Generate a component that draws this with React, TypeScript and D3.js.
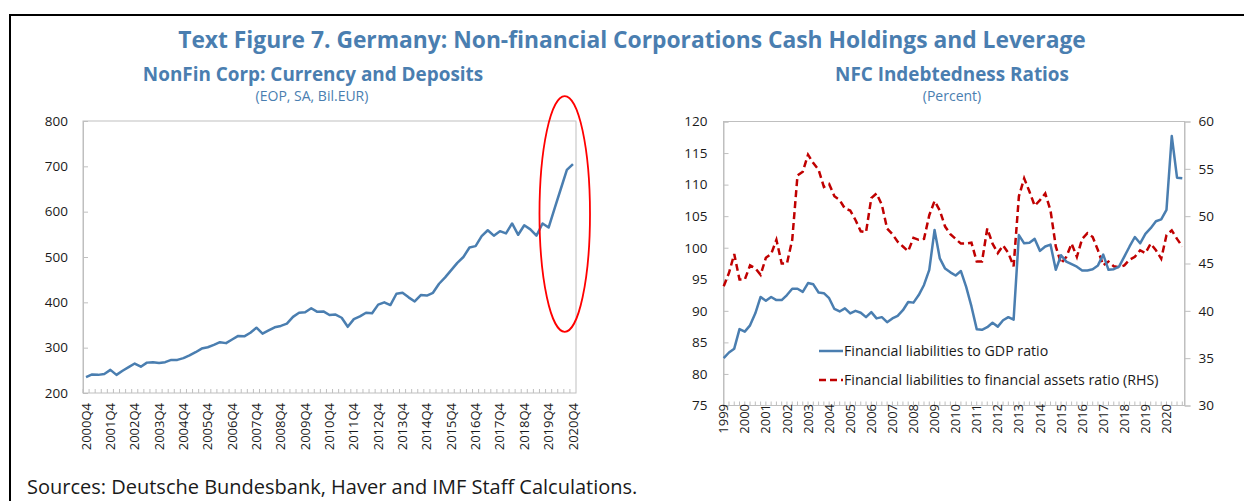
import { useEffect, useRef } from "react";
import * as d3 from "d3";

// Left panel: currency and deposits, 2000Q4 - 2020Q4 (bil. EUR)
const depositQuarters: string[] = [];
for (let y = 2000; y <= 2020; y++) {
  for (const q of y === 2000 ? [4] : [1, 2, 3, 4]) depositQuarters.push(`${y}Q${q}`);
}
const depositValues = [
  235, 241, 240, 242, 251, 240, 249, 257, 265, 258,
  267, 268, 266, 268, 273, 273, 277, 283, 290, 298,
  301, 306, 312, 310, 318, 326, 325, 333, 344, 331,
  338, 345, 348, 353, 368, 377, 378, 387, 379, 380,
  372, 373, 366, 346, 363, 369, 377, 376, 395, 400,
  394, 419, 421, 411, 402, 416, 415, 421, 441, 455,
  471, 487, 500, 521, 524, 546, 559, 547, 557, 552,
  574, 549, 570, 561, 547, 574, 565, 608, 650, 692,
  705,
];
const depositTickLabels = [
  "2000Q4", "2001Q4", "2002Q4", "2003Q4", "2004Q4", "2005Q4", "2006Q4",
  "2007Q4", "2008Q4", "2009Q4", "2010Q4", "2011Q4", "2012Q4", "2013Q4",
  "2014Q4", "2015Q4", "2016Q4", "2017Q4", "2018Q4", "2019Q4", "2020Q4",
];
const depositYTicks = [200, 300, 400, 500, 600, 700, 800];

// Right panel: indebtedness ratios, 1999Q1 - 2020Q4 (percent)
const ratioQuarters: string[] = [];
for (let y = 1999; y <= 2020; y++) {
  for (const q of [1, 2, 3, 4]) ratioQuarters.push(`${y}Q${q}`);
}
const liabToGdp = [
  82.5, 83.4, 84.0, 87.1, 86.7, 87.7, 89.6, 92.2, 91.6, 92.2,
  91.7, 91.7, 92.5, 93.5, 93.5, 93.0, 94.4, 94.2, 92.9, 92.8,
  92.0, 90.3, 89.9, 90.4, 89.6, 90.0, 89.7, 89.0, 89.8, 88.8,
  89.0, 88.2, 88.8, 89.2, 90.1, 91.4, 91.3, 92.5, 94.1, 96.5,
  102.8, 98.3, 96.7, 96.1, 95.6, 96.3, 93.8, 90.7, 87.1, 87.0,
  87.4, 88.1, 87.5, 88.5, 89.0, 88.6, 102.0, 100.7, 100.8, 101.4,
  99.5, 100.2, 100.5, 96.5, 98.8, 97.8, 97.4, 97.0, 96.4, 96.4,
  96.6, 97.2, 98.9, 96.5, 96.6, 97.0, 98.6, 100.2, 101.7, 100.7,
  102.2, 103.1, 104.2, 104.5, 106.0, 117.7, 111.1, 111.0,
];
const liabToAssets = [
  42.6, 44.0, 46.0, 43.3, 43.3, 44.8, 44.5, 43.8, 45.6, 46.0,
  47.5, 45.0, 45.0, 47.5, 54.3, 54.7, 56.5, 55.6, 54.9, 53.1,
  53.4, 52.1, 51.7, 50.8, 50.6, 49.6, 48.4, 48.3, 51.9, 52.4,
  51.2, 48.7, 48.1, 47.3, 46.8, 46.3, 47.7, 47.5, 47.6, 50.1,
  51.6, 50.6, 48.9, 48.1, 47.6, 47.1, 47.1, 47.2, 45.2, 45.2,
  48.7, 47.1, 46.1, 46.9, 46.1, 44.7, 52.1, 54.0, 52.6, 51.1,
  51.7, 52.4, 50.6, 46.8, 45.0, 45.7, 47.1, 45.7, 47.6, 48.2,
  47.8, 46.4, 44.8, 45.2, 44.7, 44.6, 44.8, 45.4, 45.7, 46.4,
  46.1, 47.1, 46.4, 45.5, 48.0, 48.5, 47.6, 46.8,
];
const ratioYearLabels = [
  "1999", "2000", "2001", "2002", "2003", "2004", "2005", "2006", "2007", "2008", "2009",
  "2010", "2011", "2012", "2013", "2014", "2015", "2016", "2017", "2018", "2019", "2020",
];
const lhsTicks = [75, 80, 85, 90, 95, 100, 105, 110, 115, 120];
const rhsTicks = [30, 35, 40, 45, 50, 55, 60];

const FONT = "'Segoe UI', 'Open Sans', sans-serif";
const BLUE = "#4A7EB0";
const RED = "#C00000";
const GRID = "#BFBFBF";

export default function App() {
  const svgRef = useRef<SVGSVGElement>(null);

  useEffect(() => {
    if (!svgRef.current) return;
    const svg = d3.select(svgRef.current);
    svg.selectAll("*").remove();
    svg.attr("font-family", FONT);

    // outer frame
    svg.append("rect")
      .attr("x", 10).attr("y", 15).attr("width", 1250).attr("height", 500)
      .attr("fill", "none").attr("stroke", "#000").attr("stroke-width", 2);

    svg.append("text")
      .attr("x", 632).attr("y", 48).attr("text-anchor", "middle")
      .attr("fill", BLUE).attr("font-size", 22.8).attr("font-weight", 700)
      .text("Text Figure 7. Germany: Non-financial Corporations Cash Holdings and Leverage");

    // ---------- left panel ----------
    const L = { left: 83, right: 576, top: 121, bottom: 393 };
    const xL = d3.scaleBand().domain(depositQuarters).range([L.left, L.right]);
    const yL = d3.scaleLinear().domain([200, 800]).range([L.bottom, L.top]);

    svg.append("text")
      .attr("x", 313).attr("y", 81).attr("text-anchor", "middle")
      .attr("fill", BLUE).attr("font-size", 18.9).attr("font-weight", 700)
      .text("NonFin Corp: Currency and Deposits");
    svg.append("text")
      .attr("x", 312).attr("y", 101).attr("text-anchor", "middle")
      .attr("fill", BLUE).attr("font-size", 14)
      .text("(EOP, SA, Bil.EUR)");

    svg.append("rect")
      .attr("x", L.left).attr("y", L.top).attr("width", L.right - L.left).attr("height", L.bottom - L.top)
      .attr("fill", "none").attr("stroke", GRID).attr("stroke-width", 1);

    svg.append("g")
      .attr("transform", `translate(${L.left},0)`)
      .call(d3.axisLeft(yL).tickValues(depositYTicks).tickSize(-5).tickPadding(15))
      .call((g) => g.select(".domain").attr("stroke", GRID))
      .call((g) => g.selectAll(".tick line").attr("stroke", GRID))
      .call((g) => g.selectAll(".tick text").attr("fill", "#1a1a1a").attr("font-size", 13.5).attr("font-family", FONT));

    // quarterly minor ticks on category boundaries
    svg.append("g").selectAll("line")
      .data(depositQuarters).enter().append("line")
      .attr("x1", (d) => xL(d)!).attr("x2", (d) => xL(d)!)
      .attr("y1", L.bottom).attr("y2", L.bottom - 4)
      .attr("stroke", GRID);

    svg.append("g").selectAll("text")
      .data(depositTickLabels).enter().append("text")
      .attr("transform", (d) => `translate(${xL(d)! + xL.bandwidth() / 2},403) rotate(-90)`)
      .attr("text-anchor", "end").attr("dy", "0.35em")
      .attr("fill", "#1a1a1a").attr("font-size", 13)
      .text((d) => d);

    const lineL = d3.line<number>()
      .x((_, i) => xL(depositQuarters[i])! + xL.bandwidth() / 2)
      .y((d) => yL(d));
    svg.append("path")
      .datum(depositValues)
      .attr("d", lineL)
      .attr("fill", "none").attr("stroke", BLUE).attr("stroke-width", 2.5)
      .attr("stroke-linejoin", "round");

    // highlight ellipse around the recent surge
    const ex0 = xL("2019Q3")!;
    const ex1 = L.right + 14;
    const ey0 = yL(855);
    const ey1 = yL(335);
    svg.append("ellipse")
      .attr("cx", (ex0 + ex1) / 2).attr("cy", (ey0 + ey1) / 2)
      .attr("rx", (ex1 - ex0) / 2).attr("ry", (ey1 - ey0) / 2)
      .attr("fill", "none").attr("stroke", "#FF0000").attr("stroke-width", 1.8);

    // ---------- right panel ----------
    const R = { left: 723.5, right: 1184.5, top: 121.5, bottom: 405.5 };
    const xR = d3.scalePoint().domain(ratioQuarters).range([R.left + 0.2, R.right - 2.2]);
    const yR1 = d3.scaleLinear().domain([75, 120]).range([R.bottom, R.top]);
    const yR2 = d3.scaleLinear().domain([30, 60]).range([R.bottom, R.top]);

    svg.append("text")
      .attr("x", 952).attr("y", 81).attr("text-anchor", "middle")
      .attr("fill", BLUE).attr("font-size", 18.9).attr("font-weight", 700)
      .text("NFC Indebtedness Ratios");
    svg.append("text")
      .attr("x", 952).attr("y", 101).attr("text-anchor", "middle")
      .attr("fill", BLUE).attr("font-size", 14)
      .text("(Percent)");

    svg.append("rect")
      .attr("x", R.left).attr("y", R.top).attr("width", R.right - R.left).attr("height", R.bottom - R.top)
      .attr("fill", "none").attr("stroke", GRID).attr("stroke-width", 1);

    svg.append("g")
      .attr("transform", `translate(${R.left},0)`)
      .call(d3.axisLeft(yR1).tickValues(lhsTicks).tickSize(-5).tickPadding(16))
      .call((g) => g.select(".domain").attr("stroke", GRID))
      .call((g) => g.selectAll(".tick line").attr("stroke", GRID))
      .call((g) => g.selectAll(".tick text").attr("fill", "#1a1a1a").attr("font-size", 13.5).attr("font-family", FONT));

    svg.append("g")
      .attr("transform", `translate(${R.right},0)`)
      .call(d3.axisRight(yR2).tickValues(rhsTicks).tickSize(6).tickPadding(8))
      .call((g) => g.select(".domain").attr("stroke", GRID))
      .call((g) => g.selectAll(".tick line").attr("stroke", GRID))
      .call((g) => g.selectAll(".tick text").attr("fill", "#1a1a1a").attr("font-size", 13.5).attr("font-family", FONT));

    svg.append("g").selectAll("line")
      .data(ratioQuarters).enter().append("line")
      .attr("x1", (d) => xR(d)!).attr("x2", (d) => xR(d)!)
      .attr("y1", R.bottom).attr("y2", R.bottom - 4)
      .attr("stroke", GRID);

    svg.append("g").selectAll("text")
      .data(ratioYearLabels).enter().append("text")
      .attr("transform", (d) => `translate(${xR(`${d}Q1`)!},404) rotate(-90)`)
      .attr("text-anchor", "end").attr("dy", "0.35em")
      .attr("fill", "#1a1a1a").attr("font-size", 13)
      .text((d) => d);

    const lineR1 = d3.line<number>()
      .x((_, i) => xR(ratioQuarters[i])!)
      .y((d) => yR1(d));
    const lineR2 = d3.line<number>()
      .x((_, i) => xR(ratioQuarters[i])!)
      .y((d) => yR2(d));

    svg.append("path")
      .datum(liabToAssets)
      .attr("d", lineR2)
      .attr("fill", "none").attr("stroke", RED).attr("stroke-width", 2.5)
      .attr("stroke-dasharray", "7,4");
    svg.append("path")
      .datum(liabToGdp)
      .attr("d", lineR1)
      .attr("fill", "none").attr("stroke", BLUE).attr("stroke-width", 2.5)
      .attr("stroke-linejoin", "round");

    // legend
    const legend = [
      { label: "Financial liabilities to GDP ratio", color: BLUE, dash: null, y: 351 },
      { label: "Financial liabilities to financial assets ratio (RHS)", color: RED, dash: "7,4", y: 380 },
    ];
    const lg = svg.append("g");
    legend.forEach((d) => {
      lg.append("line")
        .attr("x1", 819).attr("x2", 843).attr("y1", d.y).attr("y2", d.y)
        .attr("stroke", d.color).attr("stroke-width", 2.5)
        .attr("stroke-dasharray", d.dash);
      lg.append("text")
        .attr("x", 844).attr("y", d.y).attr("dy", "0.35em")
        .attr("fill", "#1a1a1a").attr("font-size", 14.2)
        .text(d.label);
    });

    svg.append("text")
      .attr("x", 27).attr("y", 494)
      .attr("fill", "#1a1a1a").attr("font-size", 20)
      .text("Sources: Deutsche Bundesbank, Haver and IMF Staff Calculations.");
  }, []);

  return (
    <svg
      ref={svgRef}
      width={1244}
      height={501}
      style={{ position: "absolute", left: 0, top: 0, background: "#fff" }}
    />
  );
}
